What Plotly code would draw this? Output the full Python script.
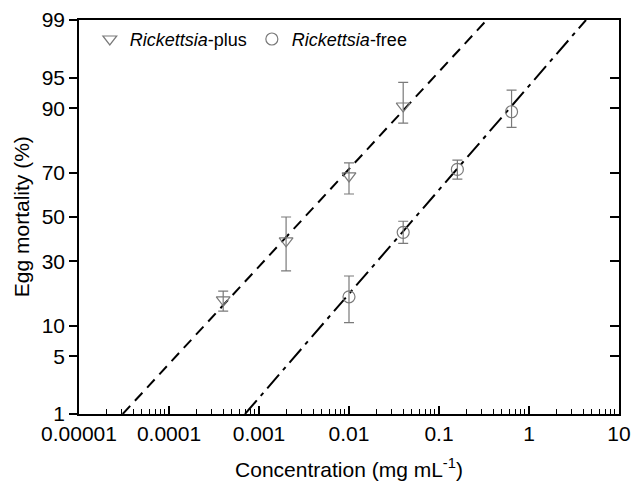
import plotly.graph_objects as go
from statistics import NormalDist

nd = NormalDist()
def probit(p):
    return [nd.inv_cdf(v / 100.0) for v in p]

# Data (concentration in mg/mL, mortality in %)
plus_conc = [0.0004, 0.002, 0.01, 0.04]
plus_mort = [16.4, 38.9, 68.6, 90.5]
plus_upper = [19.1, 50.0, 73.9, 94.4]
plus_lower = [13.3, 26.2, 60.7, 86.6]

free_conc = [0.01, 0.04, 0.16, 0.64]
free_mort = [17.3, 42.8, 71.3, 89.3]
free_upper = [24.3, 48.0, 74.9, 93.3]
free_lower = [10.6, 37.8, 67.3, 85.5]

# Fitted probit lines (endpoints at 1% and 99%)
plus_fit_conc = [3.06e-5, 0.339]
plus_fit_mort = [1, 99]
free_fit_conc = [6.99e-4, 4.3]
free_fit_mort = [1, 99]

y_ticks = [1, 5, 10, 30, 50, 70, 90, 95, 99]
x_ticks = [0.00001, 0.0001, 0.001, 0.01, 0.1, 1, 10]
x_ticklabels = ["0.00001", "0.0001", "0.001", "0.01", "0.1", "1", "10"]

def err(mort, up, lo):
    zm = probit(mort)
    zu = probit(up)
    zl = probit(lo)
    return [u - m for u, m in zip(zu, zm)], [m - l for m, l in zip(zm, zl)]

pu, pl = err(plus_mort, plus_upper, plus_lower)
fu, fl = err(free_mort, free_upper, free_lower)

FONT = "Liberation Sans, Arial, sans-serif"
GRAY = "#7a7a7a"

fig = go.Figure()

fig.add_trace(go.Scatter(
    x=plus_fit_conc, y=probit(plus_fit_mort), mode="lines",
    line=dict(color="black", width=2, dash="11px,7px"), showlegend=False))
fig.add_trace(go.Scatter(
    x=free_fit_conc, y=probit(free_fit_mort), mode="lines",
    line=dict(color="black", width=2, dash="18px,6px,4px,6px"), showlegend=False))

fig.add_trace(go.Scatter(
    x=plus_conc, y=probit(plus_mort), mode="markers",
    name="<i>Rickettsia</i>-plus",
    marker=dict(symbol="triangle-down-open", size=12, color=GRAY, line=dict(width=1.2)),
    error_y=dict(type="data", symmetric=False, array=pu, arrayminus=pl,
                 color=GRAY, thickness=1.2, width=5)))
fig.add_trace(go.Scatter(
    x=free_conc, y=probit(free_mort), mode="markers",
    name="<i>Rickettsia</i>-free",
    marker=dict(symbol="circle-open", size=12, color=GRAY, line=dict(width=1.2)),
    error_y=dict(type="data", symmetric=False, array=fu, arrayminus=fl,
                 color=GRAY, thickness=1.2, width=5)))

zr = [nd.inv_cdf(0.01), nd.inv_cdf(0.99)]

fig.update_layout(
    width=631, height=481,
    margin=dict(l=79, r=12, t=20, b=67, autoexpand=False),
    paper_bgcolor="white", plot_bgcolor="white",
    font=dict(family=FONT, size=21, color="black"),
    showlegend=True,
    legend=dict(orientation="h", x=0.02, y=0.998, xanchor="left", yanchor="top",
                font=dict(size=18), bgcolor="rgba(0,0,0,0)", itemwidth=30,
                traceorder="normal"),
    xaxis=dict(type="log", range=[-5, 1], tickvals=x_ticks, ticktext=x_ticklabels,
               automargin=False,
               ticks="inside", ticklen=8, tickwidth=1.5, tickcolor="black",
               showline=True, linecolor="black", linewidth=1.5, mirror=True,
               showgrid=False, zeroline=False,
               minor=dict(ticks="inside", ticklen=5, tickwidth=1.2, tickcolor="black",
                          dtick="D1", showgrid=False),
               title=dict(text="Concentration (mg mL<sup>-1</sup>)", standoff=26,
                          font=dict(size=21))),
    yaxis=dict(range=zr, tickvals=probit(y_ticks), ticktext=[str(v) for v in y_ticks],
               automargin=False,
               ticks="outside", ticklen=8, tickwidth=1.5, tickcolor="black",
               showline=True, linecolor="black", linewidth=1.5, mirror=True,
               showgrid=False, zeroline=False),
    yaxis2=dict(range=zr, overlaying="y", side="right", tickvals=probit(y_ticks),
                automargin=False,
                showticklabels=False, ticks="inside", ticklen=9, tickwidth=1.5,
                tickcolor="black", showgrid=False, zeroline=False, showline=False),
    annotations=[dict(text="Egg mortality (%)", textangle=-90, xref="paper", yref="paper",
                      x=-0.107, y=0.5, xanchor="center", yanchor="middle",
                      showarrow=False, font=dict(size=21))],
)

fig.add_trace(go.Scatter(x=[None], y=[None], yaxis="y2", showlegend=False, hoverinfo="skip"))

fig.write_html(
    "out.html",
    config={"displayModeBar": False},
    post_script="document.body.style.margin='0px';document.body.style.overflow='hidden';",
)
